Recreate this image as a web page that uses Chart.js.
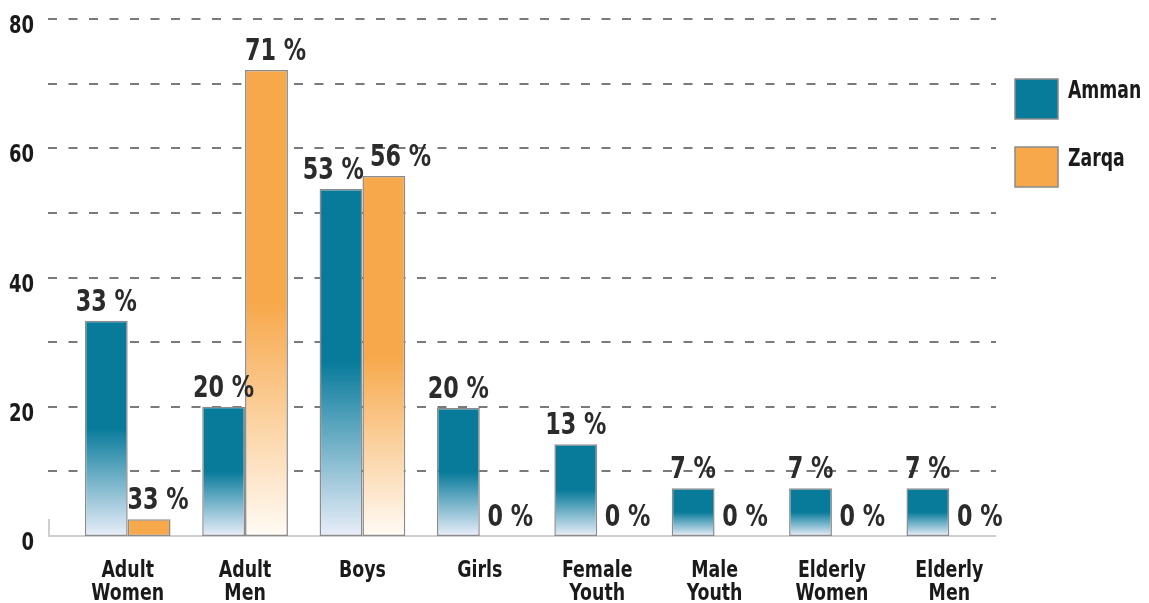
<!DOCTYPE html>
<html>
<head>
<meta charset="utf-8">
<script src="https://cdn.jsdelivr.net/npm/chart.js@4"></script>
<style>
  html, body { margin: 0; padding: 0; background: #fff; }
  #wrap { width: 1149px; height: 603px; }
</style>
</head>
<body>
<div id="wrap"><canvas id="chart1"></canvas></div>
<script>
const FONT = "'Liberation Sans Narrow', 'DejaVu Sans Condensed', 'Arial Narrow', sans-serif";

const groups = [['Adult', 'Women'], ['Adult', 'Men'], ['Boys'], ['Girls'], ['Female', 'Youth'], ['Male', 'Youth'], ['Elderly', 'Women'], ['Elderly', 'Men']];
const ammanValues = [33.3, 20, 53.7, 19.8, 14.2, 7.4, 7.4, 7.4];
const zarqaValues = [2.6, 72.1, 55.7, 0, 0, 0, 0, 0];
// printed labels (as on the original, not always equal to bar height)
const ammanLabels = [33, 20, 53, 20, 13, 7, 7, 7];
const zarqaLabels = [33, 71, 56, 0, 0, 0, 0, 0];
const yTicks = [0, 20, 40, 60, 80];

const teal = '#087b9b';
const orange = '#f7a84b';

function fade(top, bottom) {
  return (c) => {
    const chart = c.chart;
    if (!chart.chartArea || c.raw == null) return top;
    if (c.raw < 5) return top;
    const y = chart.scales.y;
    const y0 = y.getPixelForValue(0);
    const y1 = y.getPixelForValue(c.raw);
    const g = chart.ctx.createLinearGradient(0, y0, 0, y1);
    g.addColorStop(0, bottom);
    g.addColorStop(0.5, top);
    g.addColorStop(1, top);
    return g;
  };
}

// text squeezed horizontally to look like the condensed face of the original
function narrow(ctx, text, x, y, align, sx) {
  ctx.save();
  ctx.translate(x, y);
  ctx.scale(sx, 1);
  ctx.textAlign = align;
  ctx.fillText(text, 0, 0);
  ctx.restore();
}

// dashed grid + baseline, drawn under the bars
const gridPlugin = {
  id: 'dashGrid',
  beforeDatasetsDraw(chart) {
    const ctx = chart.ctx;
    const y = chart.scales.y;
    const a = chart.chartArea;
    const left = a.left - 21, right = a.right - 12;
    ctx.save();
    ctx.strokeStyle = '#7a7a7a';
    ctx.lineWidth = 2;
    ctx.setLineDash([9, 11.5]);
    for (let v = 10; v <= 80; v += 10) {
      const py = Math.round(y.getPixelForValue(v));
      ctx.beginPath();
      ctx.moveTo(left, py);
      ctx.lineTo(right, py);
      ctx.stroke();
    }
    ctx.setLineDash([]);
    ctx.strokeStyle = '#cfcfcf';
    const p0 = y.getPixelForValue(0);
    ctx.beginPath();
    ctx.moveTo(left, p0);
    ctx.lineTo(right, p0);
    ctx.moveTo(left + 1, p0);
    ctx.lineTo(left + 1, p0 - 17);
    ctx.stroke();
    ctx.restore();
  }
};

// value labels above bars
const valuePlugin = {
  id: 'values',
  afterDatasetsDraw(chart) {
    const ctx = chart.ctx;
    const m0 = chart.getDatasetMeta(0), m1 = chart.getDatasetMeta(1);
    const sx = 0.8;
    ctx.save();
    ctx.font = 'bold 31px ' + FONT;
    ctx.fillStyle = '#2b2b2b';
    ctx.textBaseline = 'alphabetic';
    groups.forEach((g, i) => {
      const b0 = m0.data[i], b1 = m1.data[i];
      const t0 = ammanLabels[i] + ' %', t1 = zarqaLabels[i] + ' %';
      const w0 = ctx.measureText(t0).width * sx, w1 = ctx.measureText(t1).width * sx;
      let x0 = b0.x, x1 = b1.x + 9;
      const y0 = b0.y - 10, y1 = b1.y - 10;
      if (Math.abs(y0 - y1) < 28) {
        const overlap = (x0 + w0 / 2) - (x1 - w1 / 2) + 6;
        if (overlap > 0) { x0 -= overlap / 2; x1 += overlap / 2; }
      }
      narrow(ctx, t0, x0, y0, 'center', sx);
      narrow(ctx, t1, x1, y1, 'center', sx);
    });
    ctx.restore();
  }
};

// axis labels and legend
const textPlugin = {
  id: 'texts',
  afterDraw(chart) {
    const ctx = chart.ctx;
    const a = chart.chartArea;
    const xs = chart.scales.x, ys = chart.scales.y;
    ctx.save();
    ctx.fillStyle = '#1a1a1a';
    ctx.textBaseline = 'alphabetic';

    ctx.font = 'bold 25px ' + FONT;
    yTicks.forEach(v => {
      narrow(ctx, String(v), a.left - 35, ys.getPixelForValue(v) + 14, 'right', 0.8);
    });

    ctx.font = 'bold 23px ' + FONT;
    groups.forEach((g, i) => {
      const cx = xs.getPixelForValue(i);
      g.forEach((line, k) => {
        narrow(ctx, line, cx, a.bottom + 41 + k * 23, 'center', 0.84);
      });
    });

    const lx = a.right + 7;
    chart.data.datasets.forEach((ds, i) => {
      const top = a.top + 60 + i * 68;
      ctx.fillStyle = ds.legendColor;
      ctx.fillRect(lx, top, 43, 40);
      ctx.strokeStyle = '#8a8a8a';
      ctx.lineWidth = 1.5;
      ctx.strokeRect(lx, top, 43, 40);
      ctx.fillStyle = '#1a1a1a';
      ctx.font = 'bold 24px ' + FONT;
      narrow(ctx, ds.label, lx + 53, top + 19, 'left', 0.8);
    });
    ctx.restore();
  }
};

const ctx1 = document.getElementById('chart1').getContext('2d');

const chart1 = new Chart(ctx1, {
  type: 'bar',
  data: {
    labels: groups,
    datasets: [{
      label: 'Amman',
      data: ammanValues,
      legendColor: teal,
      backgroundColor: fade(teal, '#e9eef9'),
      borderColor: '#8c8c8c',
      borderWidth: 1.5,
      borderSkipped: false
    }, {
      label: 'Zarqa',
      data: zarqaValues,
      legendColor: orange,
      backgroundColor: fade(orange, '#fffbf5'),
      borderColor: '#8c8c8c',
      borderWidth: 1.5,
      borderSkipped: false
    }]
  },
  options: {
    responsive: true,
    maintainAspectRatio: false,
    animation: false,
    layout: { padding: { top: 19, right: 141, bottom: 0, left: 0 } },
    plugins: {
      legend: { display: false },
      tooltip: { enabled: false }
    },
    datasets: {
      bar: { barPercentage: 1, categoryPercentage: 0.73 }
    },
    scales: {
      x: {
        grid: { display: false },
        border: { display: false },
        ticks: { display: false },
        afterFit: (s) => { s.height = 67; }
      },
      y: {
        min: 0,
        max: 80,
        grid: { display: false },
        border: { display: false },
        ticks: { display: false, stepSize: 10 },
        afterFit: (s) => { s.width = 69; }
      }
    }
  },
  plugins: [gridPlugin, valuePlugin, textPlugin]
});
</script>
</body>
</html>
